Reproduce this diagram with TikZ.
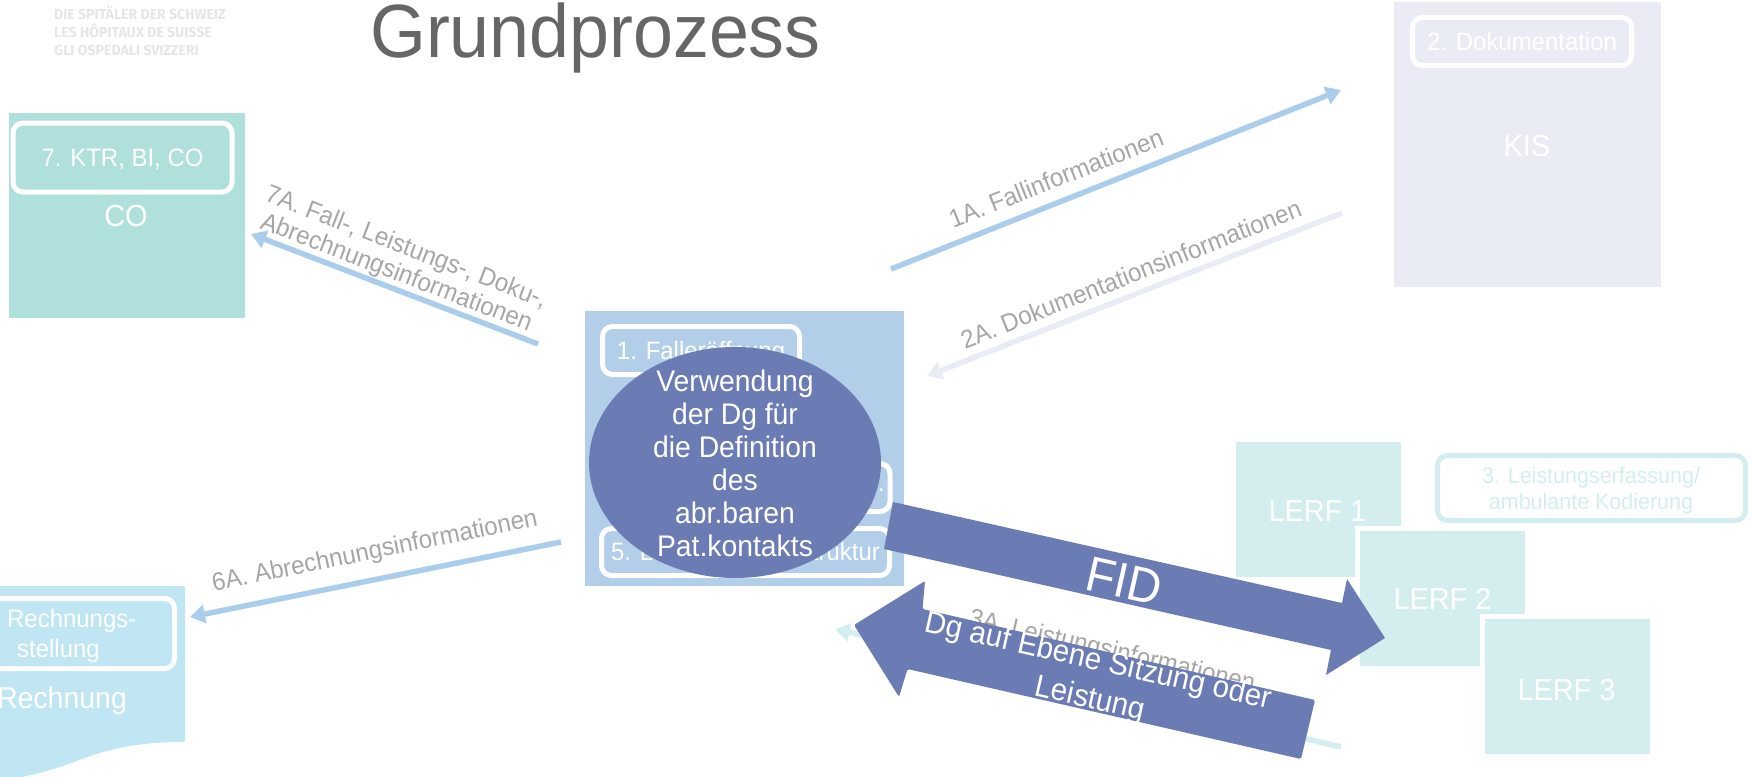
\documentclass[tikz,border=0pt]{standalone}
\usepackage{fontspec}
\setmainfont[FakeStretch=0.95]{Liberation Sans}
\newfontfamily\logofont[FakeStretch=0.97]{Fira Sans}
\usepackage{tikz}
\usetikzlibrary{arrows.meta,shapes.geometric}
\definecolor{coteal}{HTML}{B0E0DC}
\definecolor{kisgrey}{HTML}{E9ECF4}
\definecolor{fallblue}{HTML}{B3CEE8}
\definecolor{flowblue}{HTML}{A9CDEB}
\definecolor{billblue}{HTML}{C0E6F3}
\definecolor{lerfteal}{HTML}{D4EEEF}
\definecolor{bigblue}{HTML}{6B7BB4}
\definecolor{labelgrey}{HTML}{A6A6A6}
\definecolor{titlegrey}{HTML}{666666}
\definecolor{logogrey}{HTML}{E6E6E6}

\begin{document}
\begin{tikzpicture}[x=1pt,y=-1pt,inner sep=0pt]
    \tikzset{
      panel/.style={rectangle,text=white,font=\fontsize{30.5}{34}\selectfont},
      stepbox/.style={draw=white,rectangle,rounded corners=10pt,line width=5pt,text=white,align=center,font=\fontsize{25.2}{30}\selectfont},
      steptext/.style={text=white,align=left,font=\fontsize{25.2}{30}\selectfont},
      lerf/.style={panel,fill=lerfteal,draw=white,line width=5pt,minimum width=170pt,minimum height=140pt},
      lerftext/.style={text=white,font=\fontsize{30.3}{33}\selectfont},
      flow/.style={line width=5.5pt,-{Triangle[length=15pt,width=18pt]}},
      flowlabel/.style={text=labelgrey,align=center,font=\fontsize{25.4}{27}\selectfont},
      bigarrow/.style={fill=bigblue,rounded corners=1.5pt},
      bigtext/.style={text=white,align=center}
    }
    \useasboundingbox (0,0) rectangle (1752,776);

    % header
    \node[anchor=west,text=logogrey,align=left,font=\logofont\bfseries\fontsize{14.5}{17.7}\selectfont] (logo) at (54,31) {DIE SPITÄLER DER SCHWEIZ\\LES HÔPITAUX DE SUISSE\\GLI OSPEDALI SVIZZERI};
    \node[text=titlegrey,font=\fontsize{75.5}{80}\selectfont] (title) at (595.5,38) {Grundprozess};

    % systems
    \node[panel,fill=coteal,minimum width=236pt,minimum height=205pt] (co) at (127,215.5) {};
    \node[stepbox,minimum width=219pt,minimum height=69pt] (ktr) at (122.5,157.5) {};
    \node[steptext] (ktrlabel) at (122.5,159.5) {7. KTR, BI, CO};
    \node[panel] (colabel) at (126,216) {CO};

    \node[panel,fill=kisgrey,minimum width=267pt,minimum height=285pt] (kis) at (1527.5,144.5) {};
    \node[stepbox,minimum width=219pt,minimum height=48pt] (doku) at (1522,41.5) {2. Dokumentation};
    \node[panel] (kislabel) at (1527,146) {KIS};

    \node[panel,fill=fallblue,minimum width=319pt,minimum height=275pt] (fall) at (744.5,448.5) {};
    \node[stepbox,minimum width=197pt,minimum height=48pt] (oeffnung) at (701,350.5) {};
    \node[steptext] (oeffnunglabel) at (701,352.5) {1. Falleröffnung};
    \node[stepbox,minimum width=288pt,minimum height=48pt] (vier) at (746,487.5) {};
    \node[anchor=east,steptext] (vierlabel) at (885,490) {..};
    \node[stepbox,minimum width=288pt,minimum height=47pt] (struktur) at (745.5,552) {};
    \node[steptext] (strukturlabel) at (745.5,554) {5. Leistungs\hspace{11pt}infrastruktur};

    \fill[billblue,rounded corners=2pt] (-8,586) -- (185,586) -- (185,742)
      .. controls (130,742) and (100,752) .. (74,762)
      .. controls (55,769) and (35,775) .. (10,779) -- (-8,779) -- cycle;
    \node[stepbox,minimum width=192pt,minimum height=70pt,anchor=east] (stellung) at (177,633.5) {};
    \node[anchor=west,steptext] (stellunglabel) at (7,636) {Rechnungs-\\\hspace*{10pt}stellung};
    \node[panel,font=\fontsize{30}{34}\selectfont] (rechnung) at (62,701) {Rechnung};

    \node[lerf] (lerf1) at (1318.5,509.5) {};
    \node[lerftext] (lerf1label) at (1317.5,511) {LERF 1};
    \node[lerf] (lerf2) at (1442.5,598) {};
    \node[lerftext] (lerf2label) at (1442.5,599) {LERF 2};
    \node[lerf] (lerf3) at (1567,686.5) {};
    \node[lerftext] (lerf3label) at (1566.5,690) {LERF 3};
    \node[stepbox,draw=lerfteal,minimum width=308pt,minimum height=65pt] (erfassung) at (1591.5,488) {};
    \node[text=lerfteal,align=center,font=\fontsize{22.6}{26}\selectfont] (erfassunglabel) at (1591,490.5) {3. Leistungserfassung/\\ambulante Kodierung};

    % thin connectors
    \coordinate (a1s) at (891,269);
    \coordinate (a1e) at (1341,90);
    \coordinate (a2s) at (1342,213);
    \coordinate (a2e) at (927,376);
    \coordinate (a3s) at (1341,747);
    \coordinate (a3e) at (835,629);
    \coordinate (a6s) at (561,542);
    \coordinate (a6e) at (190,617);
    \coordinate (a7s) at (538,344);
    \coordinate (a7e) at (251,234);

    \draw[flow,flowblue] (a1s) -- (a1e);
    \draw[flow,kisgrey] (a2s) -- (a2e);
    \draw[flow,lerfteal] (a3s) -- (a3e);
    \draw[flow,flowblue] (a6s) -- (a6e);
    \draw[flow,flowblue] (a7s) -- (a7e);

    \node[flowlabel,rotate=21.7] (lab1) at (1056,178) {1A. Fallinformationen};
    \node[flowlabel,rotate=21.5] (lab2) at (1131,274) {2A. Dokumentationsinformationen};
    \node[flowlabel,rotate=-13] (lab3) at (1112,652) {3A. Leistungsinformationen};
    \node[flowlabel,rotate=11.5] (lab6) at (375,552) {6A. Abrechnungsinformationen};
    \node[flowlabel,rotate=-21] (lab7) at (401,261) {7A. Fall-, Leistungs-, Doku-,\\Abrechnungsinformationen};

    % ellipse on top of the case panel
    \node[ellipse,fill=bigblue,minimum width=292pt,minimum height=231pt] (verwendung) at (735,462.5) {};
    \node[text=white,align=center,font=\fontsize{29.8}{33}\selectfont] (verwendunglabel) at (735,463.5) {Verwendung\\der Dg für\\die Definition\\des\\abr.baren\\Pat.kontakts};

    % block arrows
    \fill[bigarrow,rounded corners=0pt] (893,502) -- (1342,603) -- (1347,579) -- (1385,638) -- (1326,675) -- (1331,650) -- (884,549) -- cycle;
    \node[bigtext,rotate=-12.7,font=\fontsize{49.5}{52}\selectfont] (fid) at (1124,581) {FID};

    \fill[bigarrow] (854,625) -- (925,581) -- (922.5,609) -- (1315,700) -- (1301,759) -- (907.5,669) -- (899,697) -- cycle;
    \node[bigtext,rotate=-12.7,font=\fontsize{31}{38.5}\selectfont] (dg) at (1094,681) {Dg auf Ebene Sitzung oder\\Leistung};
\end{tikzpicture}
\end{document}
